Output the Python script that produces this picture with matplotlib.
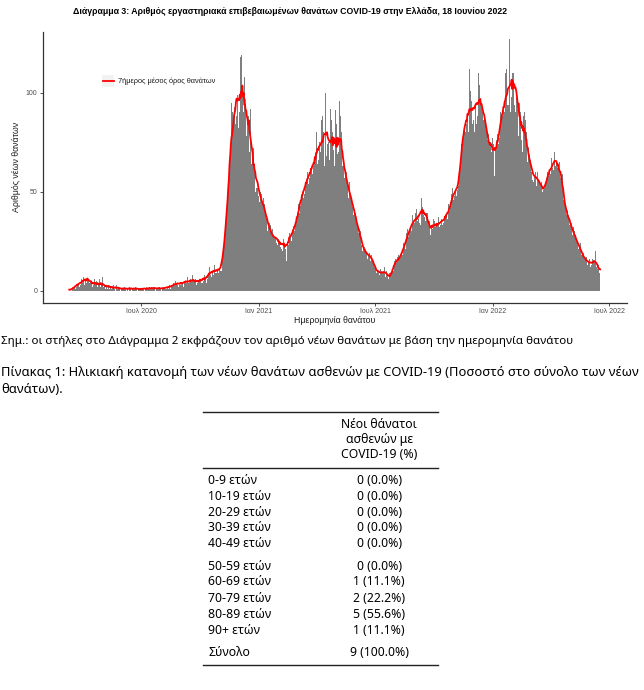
import pandas as pd
import matplotlib
matplotlib.use("Agg")
import matplotlib.pyplot as plt
from matplotlib.patches import Rectangle
from matplotlib.lines import Line2D

W, H = 644, 690

# daily new deaths, from 11 March 2020 (one row = one week)
start_date = "2020-03-11"
deaths = [
    0, 1, 0, 1, 0, 1, 2,
    1, 2, 3, 1, 2, 4, 3,
    3, 5, 2, 4, 3, 6, 4,
    4, 7, 5, 3, 6, 9, 4,
    6, 3, 5, 10, 4, 5, 3,
    4, 2, 5, 3, 6, 2, 4,
    3, 5, 2, 3, 4, 6, 1,
    2, 4, 3, 7, 2, 1, 3,
    3, 1, 2, 4, 1, 3, 2,
    1, 2, 3, 1, 2, 0, 3,
    2, 1, 0, 2, 3, 1, 1,
    1, 2, 1, 0, 1, 2, 1,
    0, 1, 2, 1, 1, 0, 2,
    1, 0, 1, 2, 1, 1, 0,
    2, 1, 1, 0, 1, 2, 1,
    1, 0, 2, 1, 0, 1, 1,
    0, 1, 1, 2, 1, 0, 1,
    1, 2, 0, 1, 1, 1, 2,
    1, 1, 2, 0, 1, 2, 1,
    2, 1, 0, 1, 2, 1, 1,
    1, 2, 1, 1, 0, 2, 1,
    1, 1, 2, 1, 2, 1, 2,
    2, 1, 3, 2, 1, 3, 2,
    3, 2, 4, 3, 2, 5, 3,
    4, 3, 2, 6, 3, 4, 3,
    3, 5, 4, 2, 6, 4, 4,
    5, 4, 7, 3, 4, 5, 4,
    6, 4, 5, 8, 3, 6, 5,
    4, 6, 3, 5, 4, 7, 5,
    5, 3, 6, 4, 9, 4, 5,
    6, 8, 5, 7, 4, 9, 6,
    9, 7, 12, 8, 10, 7, 10,
    11, 8, 10, 13, 9, 10, 9,
    10, 12, 9, 11, 14, 10, 10,
    13, 16, 19, 22, 26, 28, 30,
    35, 42, 48, 51, 58, 60, 70,
    66, 95, 76, 90, 84, 70, 93,
    84, 121, 88, 99, 112, 82, 86,
    90, 118, 86, 119, 100, 104, 90,
    108, 80, 97, 78, 101, 86, 87,
    88, 70, 78, 92, 64, 72, 68,
    72, 55, 64, 50, 66, 52, 61,
    52, 48, 56, 45, 50, 43, 49,
    45, 40, 47, 38, 44, 39, 41,
    36, 30, 37, 32, 34, 29, 33,
    29, 26, 31, 24, 28, 27, 28,
    27, 24, 30, 23, 26, 25, 24,
    22, 25, 21, 27, 20, 26, 23,
    24, 21, 26, 15, 24, 28, 23,
    26, 29, 27, 31, 25, 30, 28,
    32, 30, 38, 33, 36, 31, 38,
    40, 44, 39, 48, 43, 47, 47,
    50, 47, 56, 49, 55, 51, 56,
    55, 60, 54, 63, 57, 59, 61,
    62, 59, 70, 63, 67, 61, 69,
    62, 80, 64, 84, 66, 75, 66,
    70, 86, 66, 88, 72, 80, 63,
    82, 100, 68, 90, 74, 75, 71,
    66, 92, 64, 86, 70, 80, 71,
    80, 63, 91, 66, 84, 69, 65,
    70, 96, 66, 88, 72, 80, 63,
    68, 63, 57, 66, 58, 60, 55,
    54, 50, 47, 55, 48, 49, 47,
    45, 42, 38, 44, 40, 39, 39,
    35, 30, 33, 29, 32, 31, 30,
    26, 23, 20, 25, 21, 22, 21,
    20, 17, 19, 16, 21, 18, 19,
    17, 15, 18, 14, 16, 17, 15,
    12, 10, 11, 9, 12, 10, 10,
    9, 8, 11, 7, 10, 9, 9,
    10, 8, 12, 7, 9, 10, 8,
    8, 6, 9, 5, 8, 7, 9,
    11, 13, 10, 15, 12, 16, 14,
    15, 17, 14, 18, 16, 15, 17,
    19, 22, 18, 24, 20, 23, 21,
    26, 29, 25, 31, 27, 28, 30,
    32, 35, 30, 38, 33, 34, 34,
    36, 39, 33, 41, 35, 36, 36,
    34, 48, 33, 47, 38, 42, 38,
    40, 37, 42, 35, 39, 38, 39,
    33, 29, 35, 28, 32, 33, 34,
    31, 36, 30, 35, 32, 34, 33,
    34, 31, 37, 32, 36, 33, 35,
    36, 33, 39, 34, 37, 35, 37,
    38, 42, 36, 44, 39, 40, 38,
    45, 49, 44, 52, 46, 48, 48,
    50, 54, 48, 57, 51, 53, 51,
    60, 66, 70, 74, 72, 78, 77,
    82, 88, 80, 93, 84, 87, 88,
    80, 112, 78, 101, 96, 86, 84,
    86, 107, 80, 108, 95, 84, 95,
    88, 110, 84, 104, 97, 96, 93,
    94, 90, 86, 92, 87, 85, 89,
    80, 76, 72, 79, 74, 73, 75,
    73, 70, 77, 71, 74, 58, 76,
    72, 76, 70, 79, 74, 77, 77,
    84, 90, 86, 94, 88, 91, 90,
    90, 110, 86, 112, 94, 104, 94,
    96, 127, 90, 115, 98, 110, 96,
    110, 94, 118, 90, 112, 98, 96,
    100, 78, 95, 82, 90, 76, 95,
    70, 88, 74, 90, 72, 86, 80,
    70, 65, 72, 64, 69, 66, 67,
    60, 56, 62, 55, 59, 58, 60,
    57, 53, 60, 54, 56, 55, 57,
    54, 49, 55, 50, 53, 51, 52,
    50, 54, 57, 55, 60, 58, 58,
    60, 64, 59, 67, 61, 62, 61,
    66, 70, 63, 72, 65, 62, 61,
    63, 59, 65, 57, 61, 56, 59,
    50, 46, 44, 48, 42, 40, 38,
    40, 36, 38, 33, 37, 34, 34,
    31, 28, 32, 27, 30, 27, 28,
    26, 23, 25, 21, 24, 22, 24,
    20, 18, 19, 16, 19, 17, 17,
    16, 14, 17, 13, 15, 14, 16,
    14, 12, 15, 13, 16, 13, 15,
    15, 13, 20, 12, 14, 11, 13,
    11, 9, 10,
]

tick_dates = ["2020-07-01", "2021-01-01", "2021-07-01", "2022-01-01", "2022-07-01"]
tick_labels = ["Ιουλ 2020", "Ιαν 2021", "Ιουλ 2021", "Ιαν 2022", "Ιουλ 2022"]
y_ticks = [0, 50, 100]

age_groups = ["0-9 ετών", "10-19 ετών", "20-29 ετών", "30-39 ετών", "40-49 ετών",
              "50-59 ετών", "60-69 ετών", "70-79 ετών", "80-89 ετών", "90+ ετών"]
age_deaths = [0, 0, 0, 0, 0, 0, 1, 2, 5, 1]

title = "Διάγραμμα 3: Αριθμός εργαστηριακά επιβεβαιωμένων θανάτων COVID-19 στην Ελλάδα, 18 Ιουνίου 2022"
note = "Σημ.: οι στήλες στο Διάγραμμα 2 εκφράζουν τον αριθμό νέων θανάτων με βάση την ημερομηνία θανάτου"
caption1 = "Πίνακας 1: Ηλικιακή κατανομή των νέων θανάτων ασθενών με COVID-19 (Ποσοστό στο σύνολο των νέων"
caption2 = "θανάτων)."

dates = pd.date_range(start_date, periods=len(deaths), freq="D")
mean7 = pd.Series(deaths, index=dates).rolling(7, center=True, min_periods=1).mean()


def fx(px):
    return px / W


def fy(py):
    return 1 - py / H


fig = plt.figure(figsize=(W / 100, H / 100), dpi=100)
ax = fig.add_axes([fx(42.7), fy(302.7), (626.7 - 42.7) / W, (302.7 - 31.7) / H])

ax.bar(dates, deaths, width=1.0, color="#7f7f7f", linewidth=0)
ax.plot(mean7.index, mean7.values, color="red", linewidth=1.3)

pad = pd.Timedelta(days=41.4)
ax.set_xlim(dates[0] - pad, dates[-1] + pad)
ax.set_ylim(-6.1, 130.8)
ax.set_xticks(pd.to_datetime(tick_dates))
ax.set_xticklabels(tick_labels)
ax.set_yticks(y_ticks)

chart_font = ["Liberation Sans", "DejaVu Sans"]
for s in ["top", "right"]:
    ax.spines[s].set_visible(False)
for s in ["left", "bottom"]:
    ax.spines[s].set_color("#333333")
    ax.spines[s].set_linewidth(0.9)
ax.tick_params(length=2, width=0.6, color="#333333", labelcolor="#4d4d4d",
               labelsize=5, pad=2)
for lab in ax.get_xticklabels() + ax.get_yticklabels():
    lab.set_family(chart_font)

ax.set_xlabel("Ημερομηνία θανάτου", family=chart_font, fontsize=6.3, color="#1a1a1a")
ax.set_ylabel("Αριθμός νέων θανάτων", family=chart_font, fontsize=6.3, color="#1a1a1a")
ax.xaxis.set_label_coords(0.5, -(320.7 - 302.7) / 271)
ax.xaxis.label.set_va("center")
ax.yaxis.set_label_coords(-(42.7 - 16.3) / 584, 0.5)
ax.yaxis.label.set_va("center")

# legend
fig.add_artist(Rectangle((fx(101.7), fy(86.7)), (114.3 - 101.7) / W, (86.7 - 75) / H,
                         transform=fig.transFigure, color="#f2f2f2", lw=0))
fig.add_artist(Line2D([fx(102.5), fx(113.5)], [fy(80.8), fy(80.8)],
                      transform=fig.transFigure, color="red", lw=1.3))
leg = fig.text(fx(118.3), fy(80.8), "7ήμερος μέσος όρος θανάτων", family=chart_font,
               fontsize=5, color="#1a1a1a", va="center")

t_title = fig.text(fx(73.3), fy(12), title, family=chart_font, fontsize=5.5,
                   weight="bold", va="center")

body_font = ["Noto Sans", "DejaVu Sans"]
t_note = fig.text(fx(1), fy(341.7), note, family=body_font, fontsize=7.8, va="center")
t_cap1 = fig.text(fx(1), fy(372.7), caption1, family=body_font, fontsize=9, va="center")
t_cap2 = fig.text(fx(1), fy(389.3), caption2, family=body_font, fontsize=9, va="center")

# fit text widths to the reference
fig.canvas.draw()
r = fig.canvas.get_renderer()
for t, wpx in [(t_title, 432), (t_note, 576), (t_cap1, 635), (leg, 98)]:
    w = t.get_window_extent(r).width
    t.set_fontsize(t.get_fontsize() * wpx / w)
t_cap2.set_fontsize(t_cap1.get_fontsize())

# table
tab_size = 8.8
rule_kw = dict(transform=fig.transFigure, color="#222222", lw=1.0)
for yy in [411.7, 468.3, 665.3]:
    fig.add_artist(Line2D([fx(202.7), fx(437.7)], [fy(yy), fy(yy)], **rule_kw))
for txt, yy in zip(["Νέοι θάνατοι", "ασθενών με", "COVID-19 (%)"], [425, 440, 454.3]):
    fig.text(fx(379.2), fy(yy), txt, family=body_font, fontsize=tab_size,
             ha="center", va="center")

row_y = [480.7, 496.7, 512.3, 527.7, 543.7, 566, 581.7, 598.3, 614, 630]
total = sum(age_deaths)
for g, n, yy in zip(age_groups, age_deaths, row_y):
    fig.text(fx(208.3), fy(yy), g, family=body_font, fontsize=tab_size, va="center")
    fig.text(fx(379.2), fy(yy), f"{n} ({100 * n / total:.1f}%)", family=body_font,
             fontsize=tab_size, ha="center", va="center")
fig.text(fx(208.3), fy(652.7), "Σύνολο", family=body_font, fontsize=tab_size, va="center")
fig.text(fx(379.2), fy(652.7), f"{total} (100.0%)", family=body_font, fontsize=tab_size,
         ha="center", va="center")

fig.savefig("out.png", dpi=100)
